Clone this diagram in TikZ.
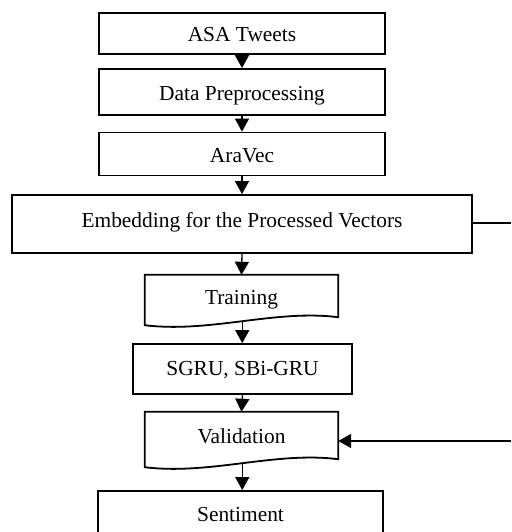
\documentclass[tikz,border=0pt]{standalone}
\usepackage{fontspec}
\setmainfont{Liberation Serif}
\usetikzlibrary{arrows.meta,calc}

\tikzset{
  stagebox/.style={draw, line width=1.8pt, rectangle, inner sep=0pt,
    font=\fontsize{21.4}{25}\selectfont, text height=17pt, text depth=0pt},
  docbox/.style={rectangle, inner sep=0pt,
    font=\fontsize{21.4}{25}\selectfont, text height=16pt, text depth=0pt},
  docline/.style={draw, line width=1.8pt, line join=miter},
  flow/.style={line width=1.3pt, -{Triangle[length=13pt,width=14pt]}},
  plainline/.style={line width=1.3pt}
}

\begin{document}
\begin{tikzpicture}[x=1pt,y=-1pt]
  \clip (0,0) rectangle (511,532);

  % pipeline stages
  \node[stagebox, minimum width=286pt, minimum height=41pt] (asa)  at (242,33.5) {ASA Tweets};
  \node[stagebox, minimum width=286pt, minimum height=46pt, text height=16pt] (prep) at (242,92) {Data Preprocessing};
  \node[stagebox, minimum width=286pt, minimum height=43pt] (ara)  at (242,154)  {AraVec};
  \node[stagebox, minimum width=460pt, minimum height=58pt, text height=14pt, text depth=8pt] (emb) at (242,224) {Embedding for the Processed Vectors};
  \node[docbox, minimum width=193pt, minimum height=42pt] (train) at (241.5,296) {Training};
  \node[stagebox, minimum width=219pt, minimum height=50pt, text height=12pt] (sgru) at (242.5,369) {SGRU, SBi-GRU};
  \node[docbox, minimum width=193pt, minimum height=47pt, text height=15pt] (valid) at (241.5,435.5) {Validation};
  \node[stagebox, minimum width=285pt, minimum height=45pt, text height=16.5pt] (sent) at (240.5,513.5) {Sentiment};

  % document shapes with wavy bottom edges
  \path[docline] ([yshift=-8pt]train.south west)
     .. controls +(65pt,-8pt) and +(-63pt,8pt) .. coordinate[pos=0.5] (trainwave) (train.south east)
     -- (train.north east) -- (train.north west) -- cycle;
  \path[docline] ([yshift=-8pt]valid.south west)
     .. controls +(65pt,-8pt) and +(-63pt,8pt) .. coordinate[pos=0.5] (validwave) (valid.south east)
     -- (valid.north east) -- (valid.north west) -- cycle;

  % feedback line ends at the right border
  \coordinate (fbout) at (511,223);
  \coordinate (fbin)  at (511,441);

  % connectors
  \draw[flow] (asa.south)  -- (prep.north);
  \draw[flow] (prep.south) -- (ara.north);
  \draw[flow] (ara.south)  -- (emb.north);
  \draw[flow] (emb.south)  -- (train.north);
  \draw[flow] (trainwave)  -- (trainwave |- sgru.north);
  \draw[flow] (sgru.south) -- (valid.north);
  \draw[flow] (validwave)  -- (validwave |- sent.north);
  \draw[plainline] (emb.east |- fbout) -- (fbout);
  \draw[flow] (fbin) -- (fbin -| valid.east);
\end{tikzpicture}
\end{document}
